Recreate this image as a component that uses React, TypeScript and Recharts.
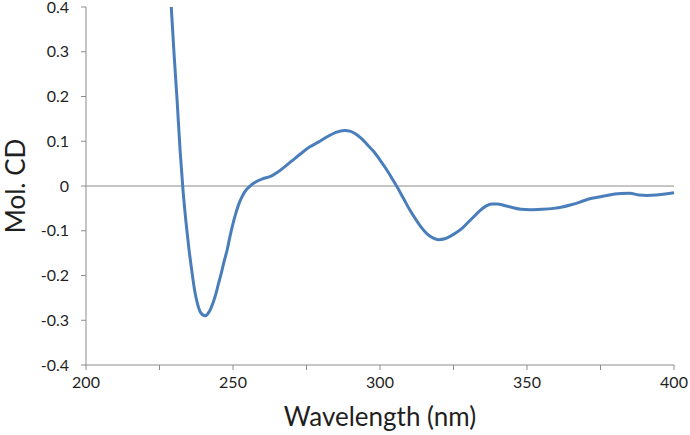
import { Line, LineChart, ReferenceLine, XAxis, YAxis } from "recharts";

const wavelengths = [
  229, 230, 231, 232, 233, 234, 235, 236, 237, 238, 239, 240.5, 242, 243, 244, 245, 246, 247, 248, 249,
  250, 251, 252, 253, 254, 255, 256, 257, 258, 260, 263, 265, 267, 270, 273, 276, 279, 282, 285, 288, 290,
  292, 294, 296, 298, 300, 302, 304, 306, 308, 310, 312, 314, 316, 318, 320, 322, 324, 326, 328, 330,
  332, 334, 336, 338, 340, 342, 345, 348, 351, 355, 359, 362, 365, 368, 371, 375, 378, 382, 385, 388,
  391, 394, 397, 400,
];

const molCD = [
  0.4, 0.29, 0.19, 0.08, -0.01, -0.08, -0.14, -0.19, -0.235, -0.265, -0.283, -0.29, -0.28, -0.265, -0.245, -0.22, -0.195, -0.168, -0.143, -0.112,
  -0.084, -0.06, -0.04, -0.025, -0.013, -0.005, 0.001, 0.006, 0.01, 0.016, 0.022, 0.03, 0.04, 0.056, 0.072, 0.087, 0.098, 0.11, 0.12, 0.124, 0.122,
  0.115, 0.104, 0.09, 0.076, 0.058, 0.039, 0.018, -0.004, -0.028, -0.052, -0.073, -0.092, -0.107, -0.116, -0.12, -0.118, -0.112, -0.104, -0.094, -0.081,
  -0.068, -0.055, -0.045, -0.04, -0.04, -0.043, -0.048, -0.052, -0.053, -0.052, -0.05, -0.047, -0.042, -0.036, -0.029, -0.024, -0.02, -0.017, -0.016, -0.02,
  -0.021, -0.02, -0.018, -0.015,
];

const xTicks = [200, 225, 250, 275, 300, 325, 350, 375, 400];
const yTicks = [-0.4, -0.3, -0.2, -0.1, 0, 0.1, 0.2, 0.3, 0.4];

const data = wavelengths.map((wl, i) => ({ wl, cd: molCD[i] }));

const axisColor = "#8c8c8c";
const textColor = "#1f1f1f";
const font = "Lato, 'Open Sans', sans-serif";

export default function App() {
  return (
    <div style={{ position: "absolute", left: 0, top: 0, width: 690, height: 435, background: "#fff" }}>
      <LineChart width={690} height={435} data={data} margin={{ top: 7, right: 16, bottom: 40, left: 0 }}>
        <XAxis
          dataKey="wl"
          type="number"
          domain={[200, 400]}
          ticks={xTicks}
          interval={0}
          tickFormatter={(v: number) => (v % 50 === 0 ? String(v) : "")}
          stroke={axisColor}
          tickSize={5}
          tickMargin={7}
          height={30}
          tick={{ fill: textColor, fontSize: 16, fontFamily: font }}
          label={{
            value: "Wavelength (nm)",
            position: "insideBottom",
            offset: -31,
            fill: textColor,
            fontSize: 26,
            fontFamily: font,
          }}
        />
        <XAxis xAxisId="top" orientation="top" dataKey="wl" type="number" domain={[200, 400]} height={0} tick={false} tickLine={false} stroke={axisColor} />
        <YAxis
          type="number"
          domain={[-0.4, 0.4]}
          ticks={yTicks}
          interval={0}
          tickFormatter={(v: number) => (Math.abs(v) < 1e-9 ? "0" : String(Math.round(v * 10) / 10))}
          stroke={axisColor}
          tickSize={5}
          tickMargin={12}
          width={86}
          tick={{ fill: textColor, fontSize: 16, fontFamily: font }}
          label={{
            value: "Mol. CD",
            angle: -90,
            position: "insideLeft",
            offset: 16,
            fill: textColor,
            fontSize: 26,
            fontFamily: font,
            style: { textAnchor: "middle" },
          }}
        />
        <YAxis yAxisId="right" orientation="right" domain={[-0.4, 0.4]} width={0} tick={false} tickLine={false} stroke={axisColor} />
        <ReferenceLine y={0} stroke={axisColor} strokeWidth={1} />
        <Line
          type="monotone"
          dataKey="cd"
          stroke="#4a7ebb"
          strokeWidth={3}
          dot={false}
          activeDot={false}
          isAnimationActive={false}
        />
      </LineChart>
    </div>
  );
}
